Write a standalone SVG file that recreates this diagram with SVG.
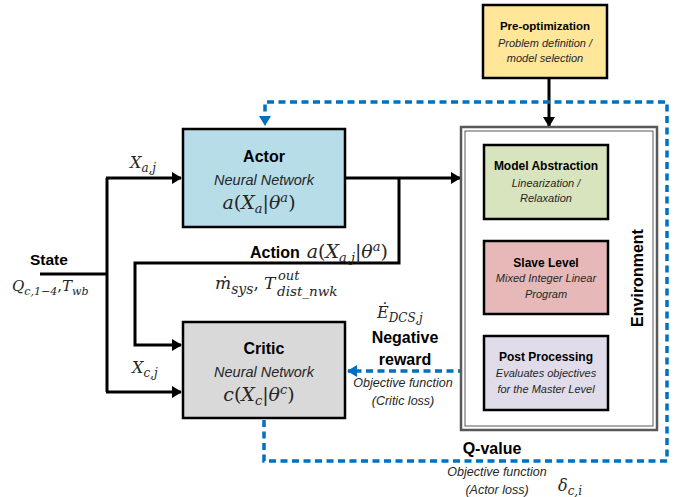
<svg xmlns="http://www.w3.org/2000/svg" width="681" height="497" viewBox="0 0 681 497">
<defs>
<style>
.t{font-family:"Liberation Sans",Arial,sans-serif;fill:#000}
.b{font-weight:bold}
.i{font-style:italic;fill:#262626}
.m{font-family:"DejaVu Serif","Liberation Serif",serif;font-style:italic;fill:#262626}
.n{font-style:normal}
.box{stroke:#000;stroke-width:2.5}
.ln{fill:none;stroke:#000;stroke-width:3}
.dash{fill:none;stroke:#0070c0;stroke-width:3.5;stroke-dasharray:7 4.5}
</style>
<marker id="ah" markerUnits="userSpaceOnUse" markerWidth="10" markerHeight="12" refX="9" refY="6" orient="auto">
<path d="M0,0 L10,6 L0,12 z" fill="#000"/>
</marker>
<marker id="ahb" markerUnits="userSpaceOnUse" markerWidth="10" markerHeight="12" refX="9" refY="6" orient="auto">
<path d="M0,0 L10,6 L0,12 z" fill="#0070c0"/>
</marker>
</defs>
<rect width="681" height="497" fill="#fff"/>

<g id="connectors">
<path class="ln" d="M40,274 H107"/>
<path class="ln" d="M107,178 V392"/>
<path class="ln" d="M106,178 H181" marker-end="url(#ah)"/>
<path class="ln" d="M106,392 H181" marker-end="url(#ah)"/>
<path class="ln" d="M345,178 H460" marker-end="url(#ah)"/>
<path class="ln" d="M399,178 V263 H135 V345 H181" marker-end="url(#ah)"/>
<path class="ln" d="M549,78 V126" marker-end="url(#ah)"/>
<path class="dash" d="M264,420 V461 H667 V102 H265 V125" marker-end="url(#ahb)"/>
<path class="dash" d="M465,371 H348" marker-end="url(#ahb)"/>
</g>

<g id="preopt">
<rect class="box" x="483" y="5" width="124" height="73" fill="#ffe699"/>
<text class="t b" x="545" y="30" font-size="11.5" text-anchor="middle">Pre-optimization</text>
<text class="t i" x="545" y="47" font-size="11" text-anchor="middle">Problem definition /</text>
<text class="t i" x="545" y="62" font-size="11" text-anchor="middle">model selection</text>
</g>

<g id="actor">
<rect class="box" x="183" y="129" width="162" height="98" fill="#b7dde8"/>
<text class="t b" x="264" y="162" font-size="16" text-anchor="middle">Actor</text>
<text class="t i" x="264" y="185" font-size="14.5" text-anchor="middle">Neural Network</text>
<text class="m" x="259" y="209" font-size="19" text-anchor="middle">a<tspan class="n">(</tspan>X<tspan font-size="13" dy="4">a</tspan><tspan class="n" dy="-4">|</tspan>θ<tspan font-size="13" dy="-7">a</tspan><tspan class="n" dy="7">)</tspan></text>
</g>

<g id="critic">
<rect class="box" x="183" y="322" width="162" height="96" fill="#d9d9d9"/>
<text class="t b" x="264" y="354" font-size="16" text-anchor="middle">Critic</text>
<text class="t i" x="264" y="377" font-size="14.5" text-anchor="middle">Neural Network</text>
<text class="m" x="259" y="401" font-size="19" text-anchor="middle">c<tspan class="n">(</tspan>X<tspan font-size="13" dy="4">c</tspan><tspan class="n" dy="-4">|</tspan>θ<tspan font-size="13" dy="-7">c</tspan><tspan class="n" dy="7">)</tspan></text>
</g>

<g id="environment">
<rect x="461" y="127" width="196" height="303" fill="#fff" stroke="#595959" stroke-width="2.5"/>
<rect x="465" y="131" width="188" height="295" fill="none" stroke="#595959" stroke-width="1"/>
<text class="t b" transform="translate(643,278) rotate(-90)" font-size="16" text-anchor="middle">Environment</text>
</g>

<g id="model-abstraction">
<rect class="box" x="484" y="145" width="124" height="74" fill="#d7e4bd"/>
<text class="t b" x="546" y="170" font-size="12" text-anchor="middle">Model Abstraction</text>
<text class="t i" x="546" y="187" font-size="11" text-anchor="middle">Linearization /</text>
<text class="t i" x="546" y="202" font-size="11" text-anchor="middle">Relaxation</text>
</g>

<g id="slave-level">
<rect class="box" x="484" y="241" width="124" height="73" fill="#e6b9b8"/>
<text class="t b" x="546" y="267" font-size="12" text-anchor="middle">Slave Level</text>
<text class="t i" x="546" y="282" font-size="11" text-anchor="middle">Mixed Integer Linear</text>
<text class="t i" x="546" y="298" font-size="11" text-anchor="middle">Program</text>
</g>

<g id="post-processing">
<rect class="box" x="484" y="336" width="124" height="74" fill="#e0dcea"/>
<text class="t b" x="546" y="361" font-size="12" text-anchor="middle">Post Processing</text>
<text class="t i" x="546" y="377" font-size="11" text-anchor="middle">Evaluates objectives</text>
<text class="t i" x="546" y="393" font-size="11" text-anchor="middle">for the Master Level</text>
</g>

<g id="labels">
<text class="m" x="130" y="168" font-size="16">X<tspan font-size="12" dy="4">a,j</tspan></text>
<text class="t b" x="30" y="265" font-size="15.5">State</text>
<text class="m" x="12" y="291" font-size="15">Q<tspan font-size="11" dy="4">c,1−4</tspan><tspan class="n" dy="-4">,</tspan>T<tspan font-size="11" dy="4">wb</tspan></text>
<text class="m" x="132" y="373" font-size="16">X<tspan font-size="12" dy="4">c,j</tspan></text>
<text class="t b" x="250" y="258" font-size="16">Action</text>
<text class="m" x="388" y="258" font-size="19" text-anchor="end">a<tspan class="n">(</tspan>X<tspan font-size="13" dy="4">a,j</tspan><tspan class="n" dy="-4">|</tspan>θ<tspan font-size="13" dy="-7">a</tspan><tspan class="n" dy="7">)</tspan></text>
<text class="m" x="215" y="289" font-size="17">ṁ<tspan font-size="14" dy="5">sys</tspan><tspan class="n" dy="-5">,</tspan></text>
<text class="m" x="264" y="289" font-size="17">T</text>
<text class="m" x="278" y="280" font-size="13">out</text>
<text class="m" x="277" y="296" font-size="13.5">dist_nwk</text>
<text class="m" x="377" y="318" font-size="16">Ė<tspan font-size="12" dy="4">DCS,j</tspan></text>
<text class="t b" x="405" y="343" font-size="16" text-anchor="middle">Negative</text>
<text class="t b" x="405" y="365" font-size="16" text-anchor="middle">reward</text>
<text class="t i" x="403" y="387" font-size="12.5" text-anchor="middle">Objective function</text>
<text class="t i" x="403" y="405" font-size="12.5" text-anchor="middle">(Critic loss)</text>
<text class="t b" x="492" y="454" font-size="16" text-anchor="middle">Q-value</text>
<text class="t i" x="497" y="476" font-size="12.5" text-anchor="middle">Objective function</text>
<text class="t i" x="497" y="494" font-size="12.5" text-anchor="middle">(Actor loss)</text>
<text class="m" x="558" y="491" font-size="16">δ<tspan font-size="12" dy="4">c,i</tspan></text>
</g>
</svg>
